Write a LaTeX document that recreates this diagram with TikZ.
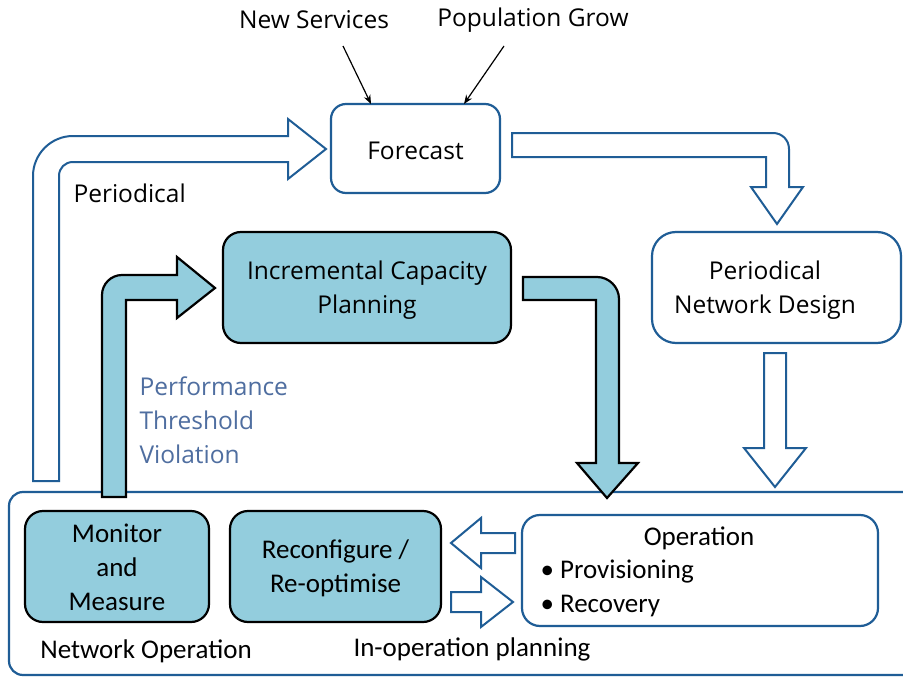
\documentclass[tikz,border=0pt]{standalone}
\usepackage{fontspec}
\setmainfont{Open Sans}
\newfontfamily\calfont{Carlito}
\usetikzlibrary{arrows.meta}
\definecolor{bblue}{RGB}{31,93,150}
\definecolor{lblue}{RGB}{147,205,221}
\definecolor{ptext}{RGB}{79,110,160}
\tikzset{
  seg/.style={font=\fontsize{24.5}{34}\selectfont, text=black, align=center},
  cal/.style={font=\calfont\fontsize{27}{34}\selectfont, text=black, align=center},
  wbox/.style={draw=bblue, line width=2.2pt, fill=white},
  bbox/.style={draw=black, line width=2.2pt, fill=lblue},
  warrow/.style={draw=bblue, line width=2pt, fill=white, line join=miter},
  barrow/.style={draw=black, line width=2.2pt, fill=lblue, line join=miter},
  thin/.style={draw=black, line width=1.2pt, -{Stealth[length=9pt,width=7pt]}}
}
\begin{document}
\begin{tikzpicture}[x=1pt,y=-1pt]
\useasboundingbox (0,0) rectangle (903,677);
\fill[white] (0,0) rectangle (903,677);

% bottom container
\draw[bblue, line width=2.2pt, rounded corners=14pt] (9,492) rectangle (930,675);
\node[inner sep=0] (cont) at (456,585) {};

% boxes
\draw[wbox, rounded corners=15pt] (331,104) rectangle (500,193);
\node[seg] (fc) at (415.5,150.5) {Forecast};
\draw[wbox, rounded corners=24pt] (652,232) rectangle (901,343);
\node[seg] (pnd) at (765,290) {Periodical\\Network Design};
\draw[bbox, rounded corners=18pt] (223,232) rectangle (511,343);
\node[seg] (icp) at (367,290) {Incremental Capacity\\Planning};

\draw[bbox, rounded corners=18pt] (25,511) rectangle (209,622);
\node[cal] (mm) at (117,567.5) {Monitor\\and\\Measure};
\draw[bbox, rounded corners=18pt] (230,511) rectangle (441,622);
\node[cal] (rr) at (335.5,568) {Reconfigure /\\Re-optimise};
\draw[wbox, rounded corners=18pt] (522,515) rectangle (878,626);
\node[cal] (op) at (699,538) {Operation};
\node[cal, anchor=west] (prov) at (537,572) {\textbullet\ Provisioning};
\node[cal, anchor=west] (rec) at (537,606) {\textbullet\ Recovery};

% labels
\node[seg] (ns) at (314,20) {New Services};
\node[seg] (pg) at (533,20) {Population Grow};
\node[seg, anchor=west] (per) at (70,193) {Periodical};
\node[seg, text=ptext, align=left, anchor=north west] (ptv) at (136,373) {Performance\\Threshold\\Violation};
\node[cal] (nop) at (146,651) {Network Operation};
\node[cal] (iop) at (472,649) {In-operation planning};

% thin arrows
\coordinate (nsA) at (343,46);
\coordinate (nsB) at (371,104);
\coordinate (pgA) at (504,46);
\coordinate (pgB) at (464,104);
\draw[thin] (nsA) -- (nsB);
\draw[thin] (pgA) -- (pgB);

% periodical arrow
\path[warrow] (33,481) -- (33,176) .. controls (33,154) and (51,136) .. (73,136) -- (288,136) -- (288,119) -- (326,149) -- (288,179) -- (288,162) -- (73,162) .. controls (65,162) and (59,168) .. (59,176) -- (59,481) -- cycle;

% forecast -> PND
\path[warrow] (512,133) -- (773,133) .. controls (782,133) and (789,140) .. (789,149) -- (789,187) -- (803,187) -- (777,224) -- (751,187) -- (766,187) -- (766,157) -- (512,157) -- cycle;

% PND -> bottom
\path[warrow] (764,353) -- (786,353) -- (786,448) -- (806,448) -- (775,487) -- (744,448) -- (764,448) -- cycle;

% ICP -> operation
\path[barrow] (523,277) -- (597,277) .. controls (609,277) and (619,287) .. (619,299) -- (619,463) -- (638,463) -- (607,498) -- (577,463) -- (596,463) -- (596,300) -- (523,300) -- cycle;

% monitor -> ICP
\path[barrow] (102,497) -- (102,295) .. controls (102,284) and (111,275) .. (122,275) -- (177,275) -- (177,257) -- (215,288) -- (177,318) -- (177,300) -- (126,300) -- (126,497) -- cycle;

% operation <-> reconfigure
\path[warrow] (515,533) -- (481,533) -- (481,518) -- (451,543) -- (481,568) -- (481,553) -- (515,553) -- cycle;
\path[warrow] (451,592) -- (481,592) -- (481,577) -- (513,602) -- (481,627) -- (481,612) -- (451,612) -- cycle;
\end{tikzpicture}
\end{document}
